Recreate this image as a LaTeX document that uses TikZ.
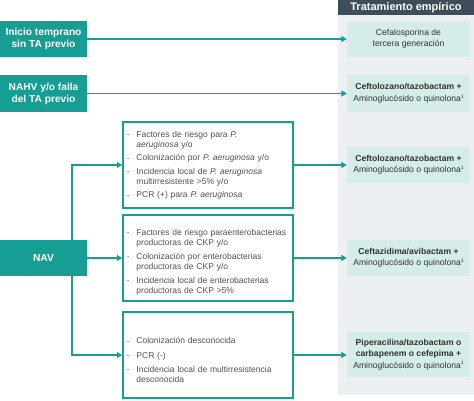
\documentclass[tikz,border=0pt]{standalone}
\usepackage{fontspec}
\setmainfont{Liberation Sans}
\usetikzlibrary{arrows.meta}
\definecolor{tealc}{RGB}{22,158,148}
\definecolor{lightg}{RGB}{213,237,232}
\definecolor{colg}{RGB}{236,240,242}
\definecolor{headc}{RGB}{62,77,89}
\definecolor{txtc}{RGB}{80,80,80}
\definecolor{restxt}{RGB}{50,50,50}
\newcommand{\bdot}{\raisebox{0.6pt}{\fontsize{4.5}{5}\selectfont\textbullet}}
\newcommand{\bitem}[1]{\par\noindent\hangindent=10pt\hangafter=1\makebox[10pt][l]{\hspace{0.8pt}\bdot}#1\par}
\newcommand{\supone}{\raisebox{3.3pt}{\fontsize{5}{5}\selectfont 1}}
\tikzset{
  leftbox/.style={fill=tealc, text=white, font=\fontsize{10.2}{12}\selectfont\bfseries, align=center, inner sep=0pt, minimum width=87pt},
  resbox/.style={fill=lightg, text=restxt, font=\fontsize{8.6}{11.5}\selectfont, align=center, inner sep=0pt, minimum width=123pt},
  critbox/.style={draw=tealc, line width=1.5pt, minimum width=170pt, minimum height=86pt, inner sep=0pt},
  crittext/.style={text=txtc, font=\fontsize{8.5}{9.8}\selectfont, text width=166pt, align=left, inner sep=0pt},
  conn/.style={draw=tealc, line width=1.2pt, -{Triangle[length=5.5pt,width=6pt]}},
  headtext/.style={text=white, font=\fontsize{11}{13}\selectfont\bfseries, inner sep=0pt}
}
\begin{document}
\begin{tikzpicture}[x=1pt,y=-1pt]
\useasboundingbox (0,0) rectangle (474,400);
% column
\fill[colg] (338,0) rectangle (474,395);
\fill[headc] (338,0) rectangle (474,14.5);
\node[headtext] (head) at (406,7.6) {Tratamiento empírico};
% left boxes
\node[leftbox, minimum height=36.5pt] (ini) at (43.5,39) {Inicio temprano\\sin TA previo};
\node[leftbox, minimum height=37pt] (nahv) at (43.5,93.5) {NAHV y/o falla\\del TA previo};
\node[leftbox, minimum height=35.5pt] (nav) at (43.5,258) {NAV};
\coordinate (tr) at (72,258);
% result boxes
\node[resbox, minimum height=36.5pt] (r1) at (408.5,39) {Cefalosporina de\\tercera generación};
\node[resbox, minimum height=37pt] (r2) at (408.5,93.5) {\textbf{Ceftolozano/tazobactam +}\\Aminoglucósido o quinolona\supone};
\node[resbox, minimum height=36pt] (r3) at (408.5,165) {\textbf{Ceftolozano/tazobactam +}\\Aminoglucósido o quinolona\supone};
\node[resbox, minimum height=36pt] (r4) at (408.5,258) {\textbf{Ceftazidima/avibactam +}\\Aminoglucósido o quinolona\supone};
\node[resbox, minimum height=45pt] (r5) at (408.5,354.5) {\textbf{Piperacilina/tazobactam o}\\\textbf{carbapenem o cefepima +}\\Aminoglucósido o quinolona\supone};
% criteria boxes
\node[critbox] (c1) at (208,165) {};
\node[critbox] (c2) at (208,258) {};
\node[critbox] (c3) at (208,355) {};
\node[crittext, anchor=north west] (c1t) at ([xshift=4pt,yshift=-2.5pt]c1.north west) {\setlength{\parskip}{3.8pt}%
\bitem{Factores de riesgo para \textit{P.}\newline\textit{aeruginosa} y/o}%
\bitem{Colonización por \textit{P. aeruginosa} y/o}%
\bitem{Incidencia local de \textit{P. aeruginosa}\newline multirresistente >5\% y/o}%
\bitem{PCR (+) para \textit{P. aeruginosa}}};
\node[crittext, anchor=west] (c2t) at ([xshift=4pt]c2.west) {\setlength{\parskip}{4.5pt}%
\bitem{Factores de riesgo paraenterobacterias\newline productoras de CKP y/o}%
\bitem{Colonización por enterobacterias\newline productoras de CKP y/o}%
\bitem{Incidencia local de enterobacterias\newline productoras de CKP >5\%}};
\node[crittext, anchor=west] (c3t) at ([xshift=4pt,yshift=-1pt]c3.west) {\setlength{\parskip}{4.5pt}%
\bitem{Colonización desconocida}%
\bitem{PCR (-)}%
\bitem{Incidencia local de multirresistencia\newline desconocida}};
% connectors
\draw[conn] (ini.east) -- (ini.east -| r1.west);
\draw[conn] (nahv.east) -- (nahv.east -| r2.west);
\draw[conn] (nav.east) -- (c2.west);
\draw[conn] (nav.north -| tr) |- (c1.west);
\draw[conn] (nav.south -| tr) |- (c3.west);
\draw[conn] (c1.east) -- (c1.east -| r3.west);
\draw[conn] (c2.east) -- (c2.east -| r4.west);
\draw[conn] (c3.east) -- (c3.east -| r5.west);
\end{tikzpicture}
\end{document}
